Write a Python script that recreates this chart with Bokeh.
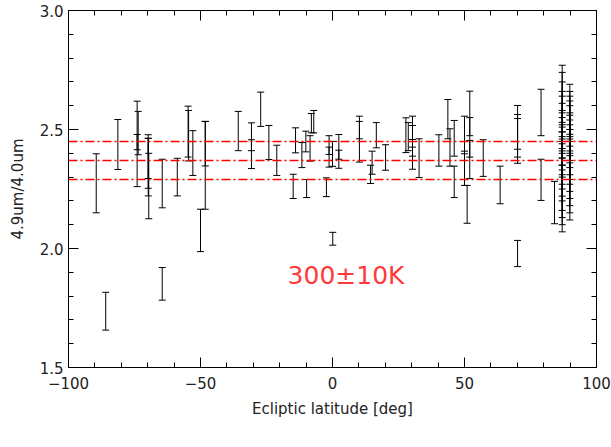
from bokeh.plotting import figure
from bokeh.models import LinearAxis, Label, FixedTicker, ColumnDataSource, CustomJSTickFormatter
from bokeh.embed import file_html
from bokeh.resources import INLINE

# ecliptic latitude [deg] and upper / lower ends of each error bar (4.9um/4.0um ratio)
lat = [-89.5, -85.9, -81.3, -74.0, -73.6, -74.0, -69.8, -69.8, -69.6, -69.8,
       -64.5, -64.5, -58.8, -54.7, -54.5, -52.9, -48.2, -48.2, -50.0, -35.7,
       -30.7, -30.7, -27.2, -24.1, -21.1, -14.9, -14.0, -11.6, -10.1, -9.8,
       -8.5, -8.0, -7.1, -2.3, -1.3, -1.3, 0.0, 2.4, 2.4, 0.1,
       10.2, 10.2, 14.4, 15.0, 16.6, 20.1, 27.8, 28.7, 30.3, 30.3,
       30.3, 32.8, 40.3, 43.7, 44.5, 46.1, 46.1, 50.0, 50.0, 51.0,
       52.0, 52.0, 52.0, 57.1, 63.5, 70.1, 70.1, 70.1, 70.1, 79.0,
       79.0, 84.1]
ratio_hi = [2.398, 1.816, 2.542, 2.619, 2.576, 2.479, 2.478, 2.463, 2.400, 2.463,
            2.375, 1.920, 2.379, 2.598, 2.580, 2.495, 2.534, 2.534, 2.165, 2.576,
            2.528, 2.457, 2.657, 2.517, 2.434, 2.312, 2.507, 2.445, 2.493, 2.290,
            2.474, 2.567, 2.580, 2.297, 2.474, 2.426, 2.450, 2.479, 2.413, 2.068,
            2.556, 2.534, 2.350, 2.409, 2.529, 2.436, 2.549, 2.529, 2.556, 2.517,
            2.458, 2.461, 2.478, 2.626, 2.503, 2.538, 2.346, 2.556, 2.409, 2.265,
            2.661, 2.550, 2.454, 2.457, 2.346, 2.601, 2.563, 2.546, 2.034, 2.669,
            2.375, 2.282]
ratio_lo = [2.150, 1.657, 2.332, 2.415, 2.394, 2.260, 2.294, 2.253, 2.125, 2.221,
            2.171, 1.783, 2.221, 2.384, 2.368, 2.307, 2.347, 2.165, 1.987, 2.411,
            2.411, 2.336, 2.513, 2.374, 2.307, 2.210, 2.402, 2.340, 2.406, 2.214,
            2.367, 2.486, 2.486, 2.218, 2.395, 2.342, 2.345, 2.375, 2.337, 2.014,
            2.461, 2.363, 2.273, 2.312, 2.423, 2.329, 2.403, 2.411, 2.388, 2.426,
            2.333, 2.298, 2.346, 2.461, 2.346, 2.388, 2.214, 2.398, 2.265, 2.106,
            2.474, 2.384, 2.294, 2.303, 2.188, 2.417, 2.384, 2.358, 1.924, 2.474,
            2.202, 2.104]

# dense group near the north ecliptic pole
pole_lat = [87.0] * 18 + [89.9] * 15
pole_hi = [2.77, 2.74, 2.70, 2.66, 2.64, 2.61, 2.58, 2.57, 2.53, 2.51, 2.49, 2.47,
           2.45, 2.42, 2.41, 2.38, 2.35, 2.31,
           2.69, 2.66, 2.64, 2.62, 2.60, 2.57, 2.56, 2.54, 2.52, 2.50, 2.48, 2.46,
           2.43, 2.40, 2.37]
pole_lo = [2.55, 2.52, 2.49, 2.46, 2.44, 2.40, 2.38, 2.35, 2.33, 2.30, 2.27, 2.25,
           2.22, 2.20, 2.16, 2.13, 2.10, 2.07,
           2.50, 2.47, 2.45, 2.41, 2.39, 2.36, 2.34, 2.31, 2.29, 2.27, 2.24, 2.21,
           2.18, 2.15, 2.12]

ref_levels = [2.45, 2.37, 2.29]
x_ticks = [-100, -50, 0, 50, 100]
x_minor = [-100, -90, -80, -70, -60, -50, -40, -30, -20, -10, 0,
           10, 20, 30, 40, 50, 60, 70, 80, 90, 100]
y_ticks = [1.5, 2.0, 2.5, 3.0]
y_minor = [1.5, 1.6, 1.7, 1.8, 1.9, 2.0, 2.1, 2.2, 2.3, 2.4, 2.5,
           2.6, 2.7, 2.8, 2.9, 3.0]

src = ColumnDataSource(dict(x=lat + pole_lat, hi=ratio_hi + pole_hi, lo=ratio_lo + pole_lo))
lvl = ColumnDataSource(dict(y=ref_levels))

FONT = "DejaVu Sans"
TXT = "#222222"

p = figure(width=611, height=447, x_range=(-100, 100), y_range=(1.5, 3.0),
           output_backend="svg", toolbar_location=None,
           x_axis_label="Ecliptic latitude [deg]", y_axis_label="4.9um/4.0um",
           min_border_left=68, min_border_right=15, min_border_top=10,
           min_border_bottom=80)
p.xgrid.visible = False
p.ygrid.visible = False
p.outline_line_color = "black"
p.background_fill_color = "white"
p.border_fill_color = "white"

p.segment(x0="x", y0="lo", x1="x", y1="hi", source=src, line_color="black", line_width=1)
p.scatter(x="x", y="hi", source=src, marker="dash", size=7, line_color="black", line_width=1)
p.scatter(x="x", y="lo", source=src, marker="dash", size=7, line_color="black", line_width=1)

p.hspan(y="y", source=lvl, line_color="#ff0000", line_width=1.5, line_dash="9 3 2 3")

p.add_layout(Label(x=-17.0, y=1.888, text="300±10K", text_color="#ff3a3a",
                   text_font=FONT, text_font_size="25px", text_baseline="middle",
                   text_align="left"))

for ax in [p.xaxis[0], p.yaxis[0]]:
    ax.major_tick_in = 10
    ax.major_tick_out = 0
    ax.minor_tick_in = 5
    ax.minor_tick_out = 0
    ax.major_label_text_font = FONT
    ax.major_label_text_font_size = "15px"
    ax.major_label_text_color = TXT
    ax.axis_label_text_font = FONT
    ax.axis_label_text_font_size = "15px"
    ax.axis_label_text_font_style = "normal"
    ax.axis_label_text_color = TXT
    ax.axis_line_color = "black"

p.xaxis[0].ticker = FixedTicker(ticks=x_ticks, minor_ticks=x_minor)
p.yaxis[0].ticker = FixedTicker(ticks=y_ticks, minor_ticks=y_minor)
p.yaxis[0].formatter = CustomJSTickFormatter(code="return tick.toFixed(1);")
p.xaxis[0].major_label_standoff = 9
p.xaxis[0].axis_label_standoff = 8
p.yaxis[0].major_label_standoff = 5
p.yaxis[0].axis_label_standoff = 10

top = LinearAxis(ticker=FixedTicker(ticks=x_ticks, minor_ticks=x_minor))
right = LinearAxis(ticker=FixedTicker(ticks=y_ticks, minor_ticks=y_minor))
for ax in [top, right]:
    ax.major_tick_in = 10
    ax.major_tick_out = 0
    ax.minor_tick_in = 5
    ax.minor_tick_out = 0
    ax.major_label_text_color = None
    ax.major_label_text_font_size = "1px"
    ax.axis_line_color = "black"
p.add_layout(top, "above")
p.add_layout(right, "right")

open("out.html", "w").write(file_html(p, INLINE))
